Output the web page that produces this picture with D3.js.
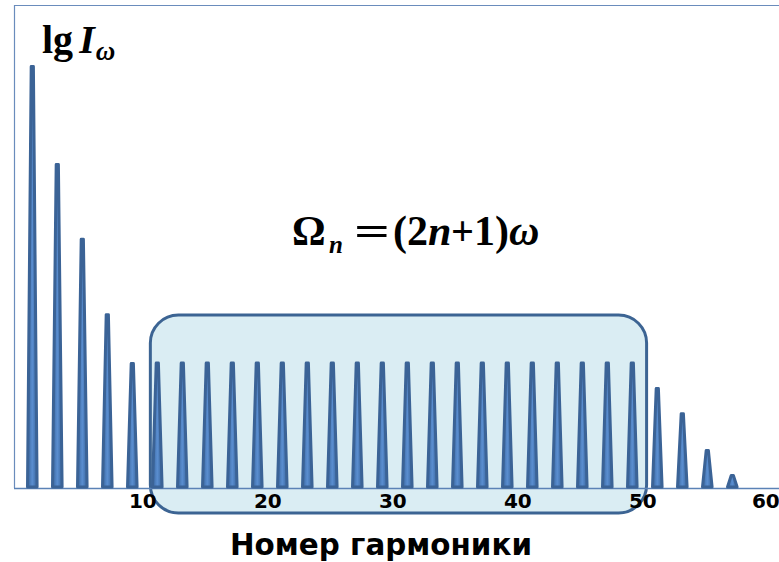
<!DOCTYPE html>
<html>
<head>
<meta charset="utf-8">
<script src="https://cdn.jsdelivr.net/npm/d3@7"></script>
<style>
  html, body { margin: 0; padding: 0; background: #ffffff; }
  svg { display: block; }
</style>
</head>
<body>
<svg id="chart" width="779" height="562"></svg>
<script>
// ---- data ----
const harmonics = [1, 3, 5, 7, 9, 11, 13, 15, 17, 19, 21, 23, 25, 27, 29, 31, 33, 35, 37, 39, 41, 43, 45, 47, 49, 51, 53, 55, 57];
const intensities = [87.6, 67.3, 51.8, 36.2, 26.1, 26.2, 26.2, 26.2, 26.2, 26.2, 26.2, 26.2, 26.2, 26.2, 26.2, 26.2, 26.2, 26.2, 26.2, 26.2, 26.2, 26.2, 26.2, 26.2, 26.2, 20.9, 15.7, 8.1, 2.9];
const tickValues = [10, 20, 30, 40, 50, 60];
const plateauRange = [10.5, 50.2];   // harmonics covered by highlighted region
const xTitle = "Номер гармоники";

// ---- layout ----
const W = 779, H = 562;
const plot = { left: 14, top: 5, bottom: 488 };
const svg = d3.select("#chart");

const x = d3.scaleLinear().domain([0, 60]).range([19.8, 769.8]);
const y = d3.scaleLinear().domain([0, 100]).range([plot.bottom, plot.top]);

const defs = svg.append("defs");
const grad = defs.append("linearGradient").attr("id", "spikeGrad")
  .attr("x1", "0%").attr("x2", "100%").attr("y1", "0%").attr("y2", "0%");
grad.append("stop").attr("offset", "0%").attr("stop-color", "#3a669e");
grad.append("stop").attr("offset", "50%").attr("stop-color", "#5a8ed0");
grad.append("stop").attr("offset", "100%").attr("stop-color", "#3a669e");

// highlighted rounded box (behind spikes)
svg.append("rect")
  .attr("x", x(plateauRange[0]) - 0.7)
  .attr("y", 315)
  .attr("width", x(plateauRange[1]) - x(plateauRange[0]))
  .attr("height", 198)
  .attr("rx", 28).attr("ry", 28)
  .attr("fill", "#daedf3")
  .attr("stroke", "#3c6493")
  .attr("stroke-width", 3);

// plot frame (left + top) and x axis line
svg.append("path")
  .attr("d", `M${plot.left + 0.5},${plot.bottom} V${plot.top + 0.5} H${W + 2}`)
  .attr("fill", "none")
  .attr("stroke", "#6a8cbc")
  .attr("stroke-width", 1.2);
svg.append("line")
  .attr("x1", plot.left).attr("x2", W + 2)
  .attr("y1", plot.bottom + 0.5).attr("y2", plot.bottom + 0.5)
  .attr("stroke", "#5b82b6")
  .attr("stroke-width", 1.5);

// spikes
const halfBase = 4.8, halfTop = 1.1, sw = 3;
svg.append("g").selectAll("path")
  .data(harmonics.map((h, i) => ({ h, v: intensities[i] })))
  .join("path")
  .attr("d", d => {
    const cx = x(d.h), top = y(d.v) + sw / 2, b = plot.bottom - 1;
    return `M${cx - halfBase},${b} L${cx - halfTop},${top} L${cx + halfTop},${top} L${cx + halfBase},${b} Z`;
  })
  .attr("fill", "url(#spikeGrad)")
  .attr("stroke", "#3b6396")
  .attr("stroke-width", sw)
  .attr("stroke-linejoin", "round");

// x axis tick labels
const axis = d3.axisBottom(x).tickValues(tickValues).tickSize(0).tickPadding(0);
const ax = svg.append("g").attr("transform", `translate(0,${plot.bottom})`).call(axis);
ax.select(".domain").remove();
ax.selectAll("text")
  .attr("y", 20).attr("dy", 0).attr("dx", d => d === 60 ? -4.5 : -2.5)
  .attr("fill", "#000")
  .style("font-family", "'DejaVu Sans', sans-serif")
  .style("font-weight", "bold")
  .style("font-size", "20px");

// x axis title
svg.append("text")
  .attr("x", 381).attr("y", 555)
  .attr("text-anchor", "middle")
  .attr("textLength", 302).attr("lengthAdjust", "spacingAndGlyphs")
  .style("font-family", "'DejaVu Sans', sans-serif")
  .style("font-weight", "bold")
  .style("font-size", "31px")
  .attr("fill", "#000")
  .text(xTitle);

// y axis label: lg I_ω
const yl = svg.append("text")
  .attr("x", 42).attr("y", 53)
  .attr("fill", "#000")
  .style("font-family", "'Liberation Serif', 'Times New Roman', serif")
  .style("font-weight", "bold")
  .style("font-size", "40px");
yl.append("tspan").text("lg");
yl.append("tspan").attr("dx", 6).style("font-style", "italic").text("I");
yl.append("tspan").attr("dy", 7).attr("dx", 1).style("font-style", "italic").style("font-size", "27px").text("ω");

// formula Ω_n = (2n+1)ω  — pieces placed like an equation editor layout
const serif = "'Liberation Serif', 'Times New Roman', serif";
const formulaPieces = [
  { t: "Ω", x: 292, y: 245, size: 42, italic: false },
  { t: "n", x: 329, y: 253, size: 25, italic: true },
  { t: "=", x: 354, y: 245, size: 42, italic: false, len: 36 },
  { t: "(", x: 393, y: 245, size: 42, italic: false },
  { t: "2", x: 407, y: 245, size: 42, italic: false },
  { t: "n", x: 428, y: 245, size: 42, italic: true },
  { t: "+", x: 451, y: 245, size: 42, italic: false, len: 23 },
  { t: "1", x: 474, y: 245, size: 42, italic: false },
  { t: ")", x: 495, y: 245, size: 42, italic: false },
  { t: "ω", x: 509, y: 245, size: 42, italic: true }
];
svg.append("g").selectAll("text")
  .data(formulaPieces)
  .join("text")
  .attr("x", d => d.x).attr("y", d => d.y)
  .attr("fill", "#000")
  .each(function (d) { if (d.len) d3.select(this).attr("textLength", d.len).attr("lengthAdjust", "spacingAndGlyphs"); })
  .style("font-family", serif)
  .style("font-weight", "bold")
  .style("font-style", d => d.italic ? "italic" : "normal")
  .style("font-size", d => d.size + "px")
  .text(d => d.t);
</script>
</body>
</html>
